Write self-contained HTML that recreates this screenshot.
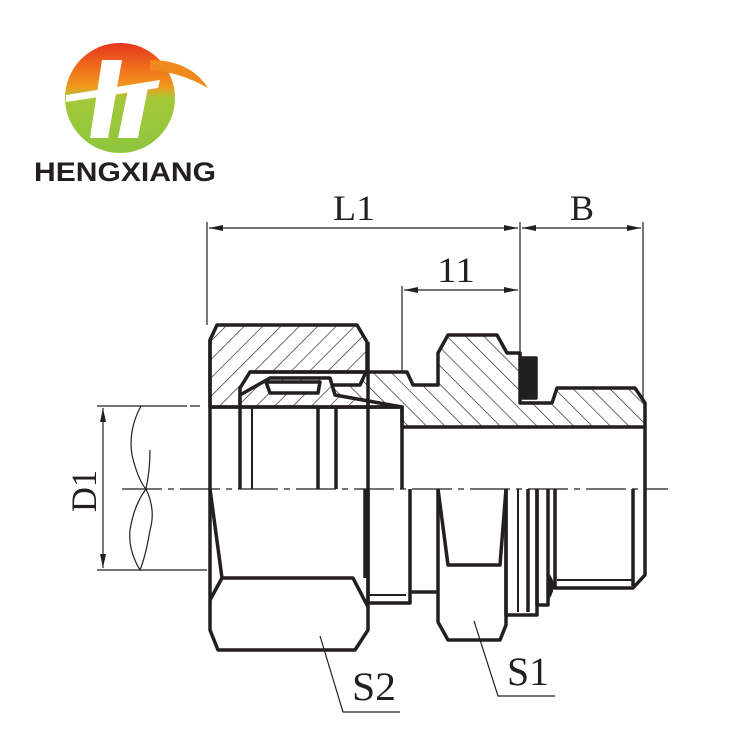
<!DOCTYPE html>
<html><head><meta charset="utf-8"><style>
html,body{margin:0;padding:0;background:#fff;}
svg{display:block}
.t{font-family:"Liberation Serif",serif;fill:#231f20;}
</style></head><body>
<svg width="750" height="750" viewBox="0 0 750 750" xmlns="http://www.w3.org/2000/svg">
<defs>
<pattern id="h" patternUnits="userSpaceOnUse" width="13" height="13" patternTransform="rotate(45)">
<rect width="13" height="13" fill="#fff"/><line x1="0" y1="0" x2="0" y2="13" stroke="#231f20" stroke-width="1.3"/></pattern>
<pattern id="h2" patternUnits="userSpaceOnUse" width="13" height="13" patternTransform="rotate(-45)">
<rect width="13" height="13" fill="#fff"/><line x1="0" y1="0" x2="0" y2="13" stroke="#231f20" stroke-width="1.3"/></pattern>
<linearGradient id="lg" x1="0" y1="0" x2="0" y2="1">
<stop offset="0" stop-color="#e8361c"/><stop offset="0.4" stop-color="#f39a1e"/><stop offset="0.5" stop-color="#a5c83a"/><stop offset="1" stop-color="#8cc63e"/></linearGradient>
<marker id="a" markerWidth="14" markerHeight="6" refX="14" refY="3" orient="auto" markerUnits="userSpaceOnUse"><path d="M0,0 L14,3 L0,6z" fill="#231f20"/></marker>
<marker id="s" markerWidth="14" markerHeight="6" refX="0" refY="3" orient="auto" markerUnits="userSpaceOnUse"><path d="M14,0 L0,3 L14,6z" fill="#231f20"/></marker>
</defs>

<!-- logo -->
<circle cx="120" cy="98" r="55" fill="url(#lg)"/>
<path d="M150,60 Q190,60 208,88 Q180,72 150,70z" fill="#f08a1c"/>
<path d="M66,95 L160,80 L158,88 L66,102z" fill="#fff"/>
<path d="M102,60 L122,60 L108,138 L90,138z" fill="#fff"/>
<path d="M128,90 L148,88 L138,138 L118,138z" fill="#fff"/>
<text x="34" y="181" style="font-family:'Liberation Sans',sans-serif;font-weight:bold;font-size:27px;fill:#231f20" textLength="182" lengthAdjust="spacingAndGlyphs">HENGXIANG</text>

<!-- dimension lines -->
<g stroke="#231f20" stroke-width="1.2" fill="none">
<line x1="207" y1="222" x2="207" y2="325"/>
<line x1="520" y1="222" x2="520" y2="355"/>
<line x1="643" y1="222" x2="643" y2="400"/>
<line x1="402" y1="286" x2="402" y2="372"/>
<line x1="209" y1="228" x2="518" y2="228" marker-start="url(#s)" marker-end="url(#a)"/>
<line x1="522" y1="228" x2="641" y2="228" marker-start="url(#s)" marker-end="url(#a)"/>
<line x1="404" y1="290" x2="518" y2="290" marker-start="url(#s)" marker-end="url(#a)"/>
<line x1="97" y1="406" x2="187" y2="406"/>
<line x1="190" y1="406" x2="200" y2="406"/>
<line x1="97" y1="570" x2="207" y2="570"/>
<line x1="103" y1="408" x2="103" y2="568" marker-start="url(#s)" marker-end="url(#a)"/>
<path d="M141,406 Q128,430 132,455 Q138,480 146,489 Q156,510 150,530 Q146,555 140,570 Q128,550 130,530 Q134,505 146,489 Q150,470 150,450"/>
<line x1="122" y1="489" x2="668" y2="489" stroke-dasharray="40,6,6,6"/>
<polyline points="320,636 343,712 400,712"/>
<polyline points="474,621 498,696 555,696"/>
</g>

<text class="t" x="333" y="220" font-size="36" textLength="42" lengthAdjust="spacingAndGlyphs">L1</text>
<text class="t" x="570" y="220" font-size="36">B</text>
<text class="t" x="437" y="282" font-size="36" textLength="38" lengthAdjust="spacingAndGlyphs">11</text>
<text class="t" x="352" y="700" font-size="40" textLength="44" lengthAdjust="spacingAndGlyphs">S2</text>
<text class="t" x="507" y="685" font-size="40" textLength="42" lengthAdjust="spacingAndGlyphs">S1</text>
<text class="t" font-size="36" transform="translate(96,512) rotate(-90)" textLength="42" lengthAdjust="spacingAndGlyphs">D1</text>

<!-- upper section hatched -->
<g stroke="#231f20" stroke-width="3.5" stroke-linejoin="round">
<path d="M210,340 L217,325 L357,325 L367,342 L367,372 L250,372 L240,388 L240,407 L210,407z" fill="url(#h)"/>
<path d="M250,372 L407,372 L413,385 L438,385 L438,353 L448,335 L497,335 L507,353 L520,353 L520,403 L552,403 L557,388 L635,388 L645,403 L645,427 L402,427 L402,407 L320,407 L320,385 L360,385 L366,372z" fill="url(#h2)"/>
<path d="M240,395 L270,378 L330,378 L335,395 L402,407 L240,407z" fill="url(#h)"/>
<path d="M266,382 L320,382 L318,393 L270,393z" fill="#fff"/>
<rect x="522" y="358" width="14" height="40" fill="#231f20"/>
</g>

<!-- lower part outlines -->
<g stroke="#231f20" stroke-width="3.5" fill="none" stroke-linejoin="round">
<path d="M210,340 L210,630 L218,650 L355,650 L368,630 L368,342"/>
<path d="M210,489 L222,578 L353,578 L368,607"/>
<path d="M222,578 L210,600"/>
<line x1="210" y1="407" x2="402" y2="407"/>
<line x1="240" y1="407" x2="240" y2="489"/>
<line x1="252" y1="407" x2="252" y2="489" stroke-width="2"/>
<line x1="318" y1="407" x2="318" y2="489"/>
<line x1="336" y1="407" x2="336" y2="489"/>
<line x1="365" y1="489" x2="365" y2="578"/>
<path d="M368,489 L368,603 L410,603 L410,489"/>
<line x1="368" y1="595" x2="406" y2="595" stroke-width="2"/>
<path d="M410,592 L438,592"/>
<line x1="402" y1="407" x2="402" y2="489"/>
<path d="M438,489 L438,622 L448,640 L500,640 L506,625 L506,489"/>
<path d="M438,489 L448,565 L500,565 L506,489"/>
<path d="M506,489 L506,615 L537,615 L537,489"/>
<line x1="518" y1="489" x2="518" y2="612" stroke-width="2"/>
<line x1="528" y1="489" x2="528" y2="612"/>
<path d="M537,489 L537,605 L548,605 L548,489"/>
<path d="M555,489 L555,588 L633,588 L645,575 L645,427"/>
<line x1="633" y1="489" x2="633" y2="586"/>
<line x1="557" y1="580" x2="633" y2="580" stroke-width="2"/>
<path d="M548,575 Q556,585 548,598" fill="#231f20"/>
</g>
</svg>
</body></html>
